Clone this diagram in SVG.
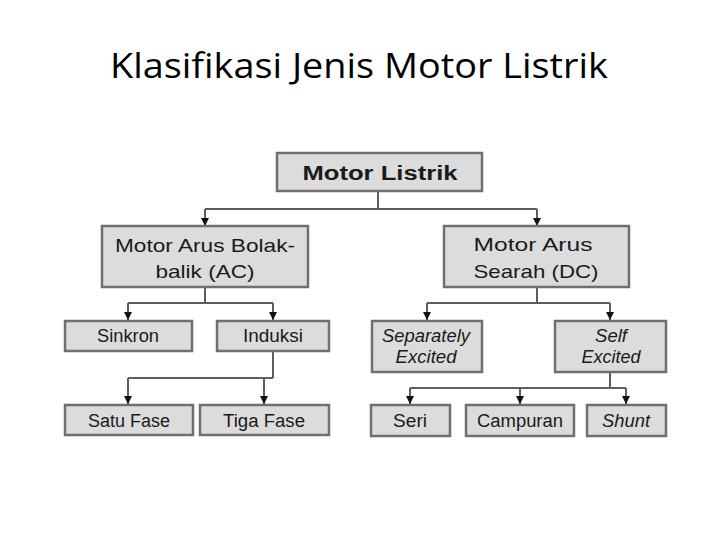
<svg xmlns="http://www.w3.org/2000/svg" width="720" height="540" viewBox="0 0 720 540">
<defs>
<style>
.box{fill:#dcdcdc;stroke:#6f6f6f;stroke-width:2.5}
.t{font-family:"Liberation Sans",Arial,sans-serif;font-size:18px;fill:#1a1a1a;text-anchor:middle}
.i{font-style:italic}
.c{fill:none;stroke:#5e5e5e;stroke-width:2}
.title{font-family:"Open Sans","Noto Sans",sans-serif;font-size:35px;fill:#000;text-anchor:middle}
</style>
<marker id="ah" viewBox="0 0 8 8" refX="8" refY="4" markerWidth="8" markerHeight="8" markerUnits="userSpaceOnUse" orient="auto">
<path d="M0,0 L8,4 L0,8 Z" fill="#111"/>
</marker>
</defs>
<rect width="720" height="540" fill="#fff"/>
<text class="title" x="359" y="78" textLength="498" lengthAdjust="spacingAndGlyphs">Klasifikasi Jenis Motor Listrik</text>

<g id="connectors">
<path class="c" d="M378,191 V209 M205,209 H537"/>
<path class="c" d="M205,209 V226" marker-end="url(#ah)"/>
<path class="c" d="M537,209 V226" marker-end="url(#ah)"/>
<path class="c" d="M205,287 V303 M128,303 H273"/>
<path class="c" d="M128,303 V320" marker-end="url(#ah)"/>
<path class="c" d="M273,303 V320" marker-end="url(#ah)"/>
<path class="c" d="M273,351 V378 M128,378 H273"/>
<path class="c" d="M128,378 V404" marker-end="url(#ah)"/>
<path class="c" d="M264,378 V404" marker-end="url(#ah)"/>
<path class="c" d="M537,287 V303 M427,303 H610"/>
<path class="c" d="M427,303 V320" marker-end="url(#ah)"/>
<path class="c" d="M610,303 V320" marker-end="url(#ah)"/>
<path class="c" d="M610,372 V388 M410,388 H626"/>
<path class="c" d="M410,388 V404" marker-end="url(#ah)"/>
<path class="c" d="M520,388 V404" marker-end="url(#ah)"/>
<path class="c" d="M626,388 V404" marker-end="url(#ah)"/>
</g>

<g id="motor-listrik">
<rect class="box" x="277" y="153" width="205" height="38"/>
<text class="t" x="380" y="180" style="font-weight:bold;font-size:20px" textLength="155" lengthAdjust="spacingAndGlyphs">Motor Listrik</text>
</g>
<g id="ac">
<rect class="box" x="102" y="226" width="206" height="61"/>
<text class="t" x="205" y="252" style="font-size:19px" textLength="180" lengthAdjust="spacingAndGlyphs">Motor Arus Bolak-</text>
<text class="t" x="205" y="278" style="font-size:19px" textLength="99" lengthAdjust="spacingAndGlyphs">balik (AC)</text>
</g>
<g id="dc">
<rect class="box" x="444" y="226" width="185" height="61"/>
<text class="t" x="533" y="251" style="font-size:19px" textLength="119" lengthAdjust="spacingAndGlyphs">Motor Arus</text>
<text class="t" x="536" y="278" style="font-size:19px" textLength="125" lengthAdjust="spacingAndGlyphs">Searah (DC)</text>
</g>
<g id="sinkron">
<rect class="box" x="65" y="321" width="127" height="30"/>
<text class="t" x="128" y="342" textLength="62" lengthAdjust="spacingAndGlyphs">Sinkron</text>
</g>
<g id="induksi">
<rect class="box" x="217" y="321" width="112" height="30"/>
<text class="t" x="273" y="342" textLength="60" lengthAdjust="spacingAndGlyphs">Induksi</text>
</g>
<g id="satu-fase">
<rect class="box" x="65" y="405" width="128" height="30"/>
<text class="t" x="129" y="427" textLength="82" lengthAdjust="spacingAndGlyphs">Satu Fase</text>
</g>
<g id="tiga-fase">
<rect class="box" x="200" y="405" width="129" height="30"/>
<text class="t" x="264" y="427" textLength="82" lengthAdjust="spacingAndGlyphs">Tiga Fase</text>
</g>
<g id="separately-excited">
<rect class="box" x="372" y="321" width="110" height="51"/>
<text class="t i" x="426" y="342" textLength="88" lengthAdjust="spacingAndGlyphs">Separately</text>
<text class="t i" x="426" y="363" textLength="61" lengthAdjust="spacingAndGlyphs">Excited</text>
</g>
<g id="self-excited">
<rect class="box" x="555" y="321" width="111" height="51"/>
<text class="t i" x="611" y="342" textLength="32" lengthAdjust="spacingAndGlyphs">Self</text>
<text class="t i" x="611" y="363" textLength="59" lengthAdjust="spacingAndGlyphs">Excited</text>
</g>
<g id="seri">
<rect class="box" x="371" y="405" width="79" height="31"/>
<text class="t" x="410" y="427" textLength="34" lengthAdjust="spacingAndGlyphs">Seri</text>
</g>
<g id="campuran">
<rect class="box" x="466" y="405" width="108" height="31"/>
<text class="t" x="520" y="427" textLength="86" lengthAdjust="spacingAndGlyphs">Campuran</text>
</g>
<g id="shunt">
<rect class="box" x="587" y="405" width="79" height="31"/>
<text class="t i" x="626" y="427" textLength="48" lengthAdjust="spacingAndGlyphs">Shunt</text>
</g>
</svg>
